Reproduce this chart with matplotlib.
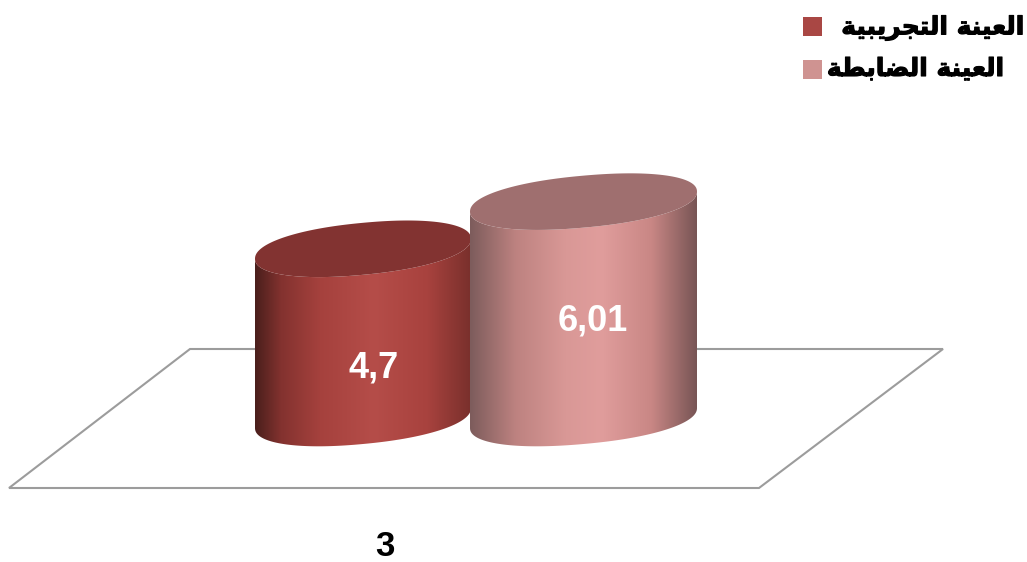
import numpy as np
import matplotlib
matplotlib.use('Agg')
import matplotlib.pyplot as plt
import matplotlib.patheffects as pe
from matplotlib.colors import LinearSegmentedColormap
from matplotlib.patches import Polygon, Rectangle

# Arabic is written with presentation forms, reversed because text is laid out left to right
series_names = ['\ufe8d\ufedf\ufecc\ufef4\ufee8\ufe94 \ufe8d\ufedf\ufe98\ufea0\ufeae\ufef3\ufe92\ufef4\ufe94'[::-1],
                '\ufe8d\ufedf\ufecc\ufef4\ufee8\ufe94 \ufe8d\ufedf\ufec0\ufe8e\ufe91\ufec4\ufe94'[::-1]]
values = [4.7, 6.01]
value_labels = ['4,7', '6,01']
category = '3'

PX_PER_UNIT = 36
BASE_PX = 418

# y axis holds the values, x axis runs in figure pixels
def vy(px):
    return (BASE_PX - px) / PX_PER_UNIT

def rim(cx, a, v, t):
    # sheared, slightly squarish ellipse, left side sits lower than the right one
    c = np.sign(np.cos(t)) * np.abs(np.cos(t)) ** 0.92
    s = np.sign(np.sin(t)) * np.abs(np.sin(t)) ** 0.92
    return np.column_stack([cx + a * c, v + (26 * s + 10 * c) / PX_PER_UNIT])

def cylinder(ax, cx, a, v, stops, top_color, z):
    cmap = LinearSegmentedColormap.from_list('shade', stops)
    grad = np.linspace(0, 1, 256).reshape(1, -1)
    im = ax.imshow(grad, cmap=cmap, aspect='auto', extent=(cx - a, cx + a, vy(470), vy(150)), zorder=z)
    lower = rim(cx, a, 0, np.linspace(np.pi, 2 * np.pi, 120))
    upper = rim(cx, a, v, np.linspace(2 * np.pi, np.pi, 120))
    body = Polygon(np.vstack([lower, upper]), transform=ax.transData, fc='none', ec='none')
    ax.add_patch(body)
    im.set_clip_path(body)
    lid = rim(cx, a, v, np.linspace(0, 2 * np.pi, 240))
    ax.add_patch(Polygon(lid, fc=top_color, ec='none', zorder=z + 0.5))

fig = plt.figure(figsize=(10.27, 5.62), dpi=100)
ax = fig.add_axes([0, 0, 1, 1])

# floor of the 3d chart
floor = [(190, 349), (943, 349), (759, 488), (9, 488)]
ax.add_patch(Polygon([(x, vy(y)) for x, y in floor], fc='white', ec='#9c9c9c', lw=1.5, zorder=1))

red_stops = [(0, '#4a1f1c'), (0.12, '#83322f'), (0.3, '#a5413d'), (0.55, '#b54d49'),
             (0.8, '#a8423e'), (1, '#79302c')]
pink_stops = [(0, '#7d5c5c'), (0.2, '#bd8280'), (0.42, '#d99896'), (0.58, '#e09d9c'),
              (0.8, '#c98785'), (1, '#785555')]

cylinder(ax, 363, 108, values[0], red_stops, '#823331', 2)
cylinder(ax, 583.5, 113.5, values[1], pink_stops, '#9f6f6f', 3)

ax.text(374, vy(368), value_labels[0], color='white', fontsize=26, fontweight='bold',
        family='Liberation Sans', ha='center', va='center', zorder=5)
ax.text(593, vy(321), value_labels[1], color='white', fontsize=26, fontweight='bold',
        family='Liberation Sans', ha='center', va='center', zorder=5)
ax.text(385, vy(547), category, color='black', fontsize=25, fontweight='bold',
        family='Liberation Sans', ha='center', va='center')

# legend, stroked a little to get heavier glyphs
heavy = [pe.withStroke(linewidth=0.8, foreground='black')]
ax.add_patch(Rectangle((803, vy(36)), 19, 19 / PX_PER_UNIT, fc='#a94744', ec='none'))
ax.add_patch(Rectangle((803, vy(79)), 19, 19 / PX_PER_UNIT, fc='#cf9391', ec='none'))
ax.text(1025, vy(28), series_names[0], color='black', fontsize=18, fontweight='bold',
        family='DejaVu Sans', ha='right', va='center', path_effects=heavy)
ax.text(1005, vy(69), series_names[1], color='black', fontsize=18, fontweight='bold',
        family='DejaVu Sans', ha='right', va='center', path_effects=heavy)

ax.set_xlim(0, 1027)
ax.set_ylim(vy(562), vy(0))
ax.axis('off')

fig.savefig('out.png', dpi=100, facecolor='white')
